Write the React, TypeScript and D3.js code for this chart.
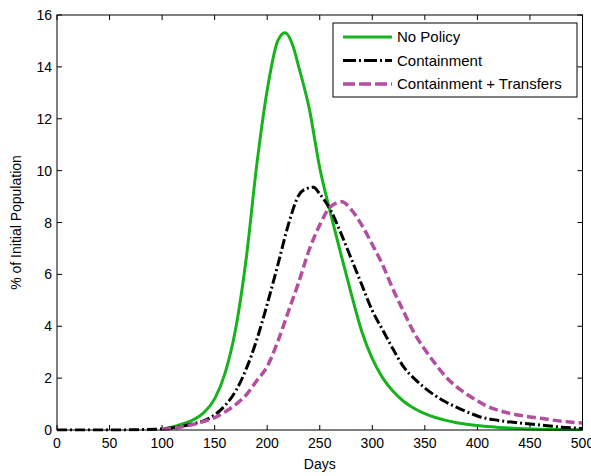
import React from "react";
import * as d3 from "d3";

const W = 591;
const H = 476;

const xTicks = [0, 50, 100, 150, 200, 250, 300, 350, 400, 450, 500];
const yTicks = [0, 2, 4, 6, 8, 10, 12, 14, 16];

const noPolicyDays = [100, 110, 120, 130, 140, 150, 160, 170, 180, 190, 200, 210, 217, 225, 230, 240, 250, 260, 270, 280, 290, 300, 310, 320, 330, 340, 350, 360, 370, 380, 390, 400, 420, 450, 475, 500];
const noPolicyVals = [0.04, 0.12, 0.24, 0.4, 0.68, 1.2, 2.2, 3.9, 6.6, 10.2, 13.1, 15.0, 15.32, 14.75, 14.0, 12.4, 10.1, 8.4, 6.8, 5.25, 3.8, 2.75, 2.0, 1.48, 1.1, 0.83, 0.63, 0.48, 0.37, 0.28, 0.22, 0.17, 0.1, 0.04, 0.02, 0.01];

const containDays = [0, 50, 100, 110, 120, 130, 140, 150, 160, 170, 180, 190, 200, 210, 220, 230, 237, 244, 250, 260, 270, 280, 290, 300, 310, 320, 330, 340, 350, 360, 370, 380, 390, 400, 420, 440, 460, 480, 500];
const containVals = [0, 0, 0.04, 0.09, 0.15, 0.24, 0.36, 0.58, 0.95, 1.5, 2.35, 3.47, 4.85, 6.35, 7.9, 9.05, 9.3, 9.36, 9.1, 8.5, 7.6, 6.6, 5.6, 4.6, 3.85, 3.1, 2.42, 1.98, 1.62, 1.32, 1.08, 0.88, 0.7, 0.54, 0.37, 0.27, 0.19, 0.11, 0.06];

const transferDays = [100, 110, 120, 130, 140, 150, 160, 170, 180, 190, 200, 210, 220, 230, 240, 250, 260, 271, 280, 290, 300, 310, 320, 330, 340, 350, 360, 370, 380, 390, 400, 410, 420, 430, 440, 450, 460, 470, 480, 490, 500];
const transferVals = [0.03, 0.07, 0.13, 0.22, 0.33, 0.48, 0.7, 0.98, 1.35, 1.9, 2.45, 3.4, 4.55, 5.7, 6.95, 7.9, 8.6, 8.8, 8.5, 7.9, 7.15, 6.35, 5.4, 4.55, 3.73, 3.1, 2.55, 2.05, 1.67, 1.38, 1.12, 0.9, 0.76, 0.65, 0.57, 0.5, 0.45, 0.39, 0.34, 0.3, 0.27];

const seriesNames = ["No Policy", "Containment", "Containment + Transfers"];
const seriesColors = ["#17b31c", "#000000", "#b24fa0"];
const seriesDash = ["none", "10 3 2 3", "9 4"];

export default function App() {
  const margin = { left: 57, right: W - 582.5, top: 15, bottom: H - 430 };
  const x = d3.scaleLinear().domain([0, 500]).range([margin.left, W - margin.right]);
  const y = d3.scaleLinear().domain([0, 16]).range([H - margin.bottom, margin.top]);
  const line = d3
    .line<[number, number]>()
    .x((d) => x(d[0]))
    .y((d) => y(d[1]))
    .curve(d3.curveMonotoneX);

  const data: [number, number][][] = [
    noPolicyDays.map((d, i) => [d, noPolicyVals[i]] as [number, number]),
    containDays.map((d, i) => [d, containVals[i]] as [number, number]),
    transferDays.map((d, i) => [d, transferVals[i]] as [number, number]),
  ];

  const x0 = x(0), x1 = x(500), y0 = y(0), y1 = y(16);
  const font = "Liberation Sans, Arial, sans-serif";
  const tick = 5;

  const lg = { x: 333, y: 23, w: 244, h: 74 };

  return (
    <svg width={W} height={H} style={{ position: "absolute", left: 0, top: 0, background: "#fff" }} fontFamily={font}>
      <rect x={0} y={0} width={W} height={H} fill="#fff" />
      <defs>
        <clipPath id="plotclip">
          <rect x={x0} y={y1} width={x1 - x0} height={y0 - y1 + 1.5} />
        </clipPath>
      </defs>
      {/* ticks */}
      {xTicks.map((t) => (
        <g key={"xt" + t}>
          <line x1={x(t)} x2={x(t)} y1={y0} y2={y0 - tick} stroke="#000" strokeWidth={1} />
          <line x1={x(t)} x2={x(t)} y1={y1} y2={y1 + tick} stroke="#000" strokeWidth={1} />
          <text x={x(t)} y={y0 + 18} fontSize={14} textAnchor="middle" fill="#000">{t}</text>
        </g>
      ))}
      {yTicks.map((t) => (
        <g key={"yt" + t}>
          <line x1={x0} x2={x0 + tick} y1={y(t)} y2={y(t)} stroke="#000" strokeWidth={1} />
          <line x1={x1} x2={x1 - tick} y1={y(t)} y2={y(t)} stroke="#000" strokeWidth={1} />
          <text x={x0 - 5} y={y(t) + 5} fontSize={14} textAnchor="end" fill="#000">{t}</text>
        </g>
      ))}
      {/* lines */}
      <g clipPath="url(#plotclip)">
        {data.map((d, i) => (
          <path
            key={i}
            d={line(d) || ""}
            fill="none"
            stroke={seriesColors[i]}
            strokeWidth={i === 2 ? 3.5 : 3}
            strokeDasharray={seriesDash[i]}
          />
        ))}
      </g>
      {/* axes box */}
      <rect x={x0} y={y1} width={x1 - x0} height={y0 - y1} fill="none" stroke="#000" strokeWidth={1} />
      {/* axis labels */}
      <text x={(x0 + x1) / 2} y={469} fontSize={14} textAnchor="middle" fill="#000">Days</text>
      <text
        transform={`translate(21, ${(y0 + y1) / 2}) rotate(-90)`}
        fontSize={14}
        textAnchor="middle"
        fill="#000"
      >
        % of Initial Population
      </text>
      {/* legend */}
      <rect x={lg.x} y={lg.y} width={lg.w} height={lg.h} fill="#fff" stroke="#000" strokeWidth={1} />
      {seriesNames.map((n, i) => {
        const ly = lg.y + 14 + i * 23.5;
        return (
          <g key={n}>
            <line
              x1={lg.x + 10}
              x2={lg.x + 59}
              y1={ly}
              y2={ly}
              stroke={seriesColors[i]}
              strokeWidth={i === 2 ? 3.5 : 3}
              strokeDasharray={i === 2 ? "12 4" : i === 1 ? "13 3 2 3" : "none"}
            />
            <text x={lg.x + 64} y={ly + 5} fontSize={15} fill="#000">{n}</text>
          </g>
        );
      })}
    </svg>
  );
}
